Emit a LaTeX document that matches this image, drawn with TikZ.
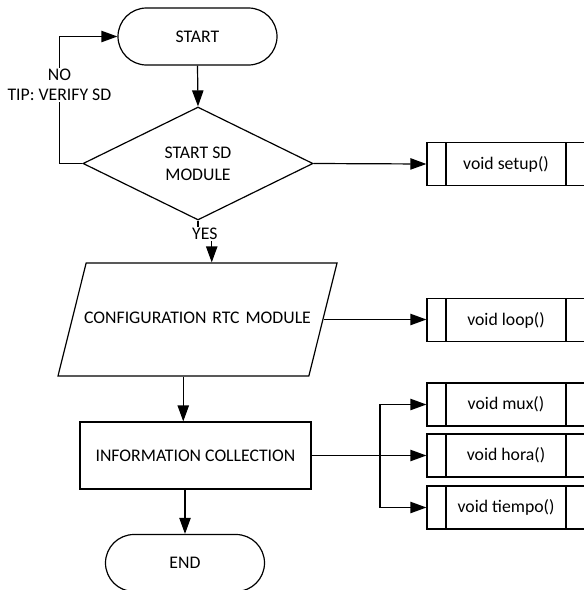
\documentclass[tikz,border=0pt]{standalone}
\usepackage{fontspec}
\setmainfont{Carlito}
\usetikzlibrary{shapes.geometric,shapes.misc,arrows.meta}
% looks of the flowchart blocks
\tikzset{
  blk/.style={draw,line width=0.9pt,inner sep=0pt,align=center,
    font=\fontsize{13.3}{16.5}\selectfont},
  term/.style={blk,rounded rectangle,minimum width=119.25pt,minimum height=42.75pt},
  decision/.style={blk,diamond,minimum width=172.5pt,minimum height=84.75pt},
  iobox/.style={blk,trapezium,trapezium left angle=76,trapezium right angle=104,
    text width=167pt,text height=9.5pt,text depth=3.25pt,inner xsep=0pt,inner ysep=36pt},
  procbox/.style={blk,rectangle,minimum width=173.25pt,minimum height=50.25pt},
  subproc/.style={blk,rectangle,minimum width=118.5pt,minimum height=32.25pt,
    path picture={
      \draw[line width=0.9pt]
        ([xshift=14.25pt]path picture bounding box.north west) --
        ([xshift=14.25pt]path picture bounding box.south west)
        ([xshift=-14.25pt]path picture bounding box.north east) --
        ([xshift=-14.25pt]path picture bounding box.south east);}},
  arr/.style={line width=0.9pt,-{Triangle[length=12pt,width=8.5pt]}},
  lbl/.style={fill=white,inner sep=1pt,align=center,
    font=\fontsize{13.3}{14.5}\selectfont}
}

\begin{document}
\begin{tikzpicture}[x=0.75pt,y=-0.75pt]
  \useasboundingbox (0,0) rectangle (584,590);

  % main column
  \node[term] (start) at (197.5,36.5) {START};
  \node[decision] (sdmod) at (198,163.5) {START SD\\MODULE};
  \node[iobox] (rtc) at (197.5,319.5) {\makebox[0pt]{CONFIGURATION RTC MODULE}};
  \node[procbox] (info) at (195.5,455.5) {INFORMATION COLLECTION};
  \node[term] (finish) at (185,563) {END};

  % functions
  \node[subproc] (setup) at (506,164) {void setup()};
  \node[subproc] (loop) at (506,320) {void loop()};
  \node[subproc] (mux) at (506,404.5) {void mux()};
  \node[subproc] (hora) at (506,455.5) {void hora()};
  \node[subproc] (tiempo) at (506,507.5) {void tiempo()};

  \coordinate (fork) at (380,455.5);

  \draw[arr] (start.south) -- (sdmod.north);
  \draw[arr] (sdmod.west) -- ++(-23,0) |- node[lbl,pos=0.31]{NO\\TIP: VERIFY SD} (start.west);
  \draw[arr] (sdmod.east) -- (setup.west);
  \draw[arr] (sdmod.south) -- ++(0,13.5) -| node[lbl,pos=0.25]{YES} (rtc.top side);
  \draw[arr] (rtc.right side) -- (rtc.right side -| loop.west);
  \draw[arr] (rtc.bottom side) -- (rtc.bottom side |- info.north);
  \draw[arr] (finish.north |- info.south) -- (finish.north);

  \draw[line width=0.9pt] (info.east) -- (fork);
  \draw[arr] (fork) |- (mux.west);
  \draw[arr] (fork) -- (hora.west);
  \draw[arr] (fork) |- (tiempo.west);
\end{tikzpicture}
\end{document}
